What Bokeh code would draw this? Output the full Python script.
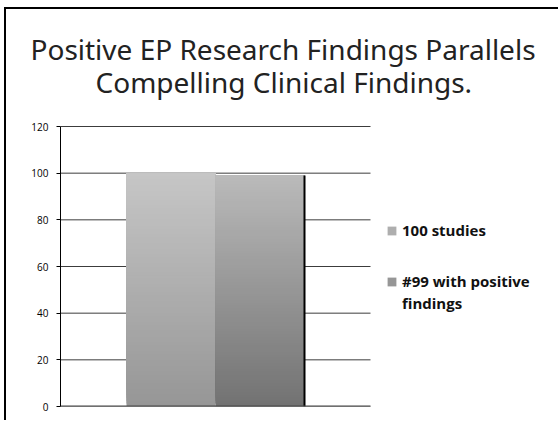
import numpy as np
from bokeh.plotting import figure
from bokeh.models import Range1d, FixedTicker, Legend, LegendItem, Title
from bokeh.embed import file_html
from bokeh.resources import INLINE

# ---- data ----
title_lines = ["Positive EP Research Findings Parallels", "Compelling Clinical Findings."]
categories = ["100 studies", "#99 with positive findings"]
values = [100, 99]
y_ticks = [0, 20, 40, 60, 80, 100, 120]

# gradient styles (top colour, bottom colour) per bar
grad_top = [(198, 198, 198), (186, 186, 186)]
grad_bot = [(150, 150, 150), (114, 114, 114)]

CW, CH = 554, 413
X0, X1 = -1.2416, 4.3764   # x extent of frame
GRID_END = 2.2416          # right end of value grid area

p = figure(width=CW, height=CH, output_backend="svg", toolbar_location=None,
           x_range=Range1d(X0, X1), y_range=Range1d(0, 123.0),
           min_border_left=54, min_border_right=0, min_border_top=110,
           min_border_bottom=16, x_axis_location=None, margin=(7, 0, 0, 4))
p.outline_line_color = None
p.background_fill_color = "white"
p.border_fill_color = "white"
p.xgrid.grid_line_color = None
p.ygrid.grid_line_color = None
p.styles = {"border-left": "2px solid black", "border-top": "2px solid black"}

# title (two centred lines; offsets place them centred on the slide)
title_offsets = [-30, 35]
title_standoffs = [-53, 38]
for k in reversed(range(len(title_lines))):
    p.add_layout(Title(text=title_lines[k], align="left", offset=title_offsets[k],
                       standoff=title_standoffs[k], text_font="Noto Sans",
                       text_font_size="28px", text_font_style="normal",
                       text_color="#222222"), "above")

ax = p.yaxis[0]
ax.ticker = FixedTicker(ticks=y_ticks)
ax.bounds = (min(y_ticks), max(y_ticks))
ax.axis_line_color = "black"
ax.major_tick_line_color = "black"
ax.major_tick_out = 4
ax.major_tick_in = 0
ax.minor_tick_line_color = None
ax.major_label_text_font = "Open Sans"
ax.major_label_text_font_size = "10px"
ax.major_label_text_color = "black"
ax.major_label_standoff = 8

# horizontal value gridlines over the plot area
p.segment(x0=[X0] * len(y_ticks), x1=[GRID_END] * len(y_ticks), y0=y_ticks, y1=y_ticks,
          line_color="#3c3c3c", line_width=1)

# bars with vertical gradient made of overlapping slices
N = 80
bars = []
for i, v in enumerate(values):
    tt = np.arange(N) / N
    bottoms = v * tt
    top = np.array(grad_top[i], dtype=float)
    bot = np.array(grad_bot[i], dtype=float)
    fr = (bot[None, :] + (top - bot)[None, :] * (tt + 0.5 / N)[:, None]).round().astype(int)
    cols = ["#%02x%02x%02x" % tuple(c) for c in fr]
    bars.append(p.quad(left=i - 0.5, right=i + 0.5, bottom=bottoms, top=v,
                       fill_color=cols, line_color=None))

# dark shadow on right edge of last bar
p.segment(x0=len(values) - 0.5, x1=len(values) - 0.5, y0=0, y1=values[-1],
          line_color="black", line_width=2)
# baseline
p.segment(x0=X0, x1=GRID_END, y0=0, y1=0, line_color="#444444", line_width=2)

# legend (second label wrapped onto two lines)
blank = p.quad(left=[], right=[], bottom=[], top=[], fill_alpha=0, line_alpha=0)
words = categories[1].split(" ")
wrap1, wrap2 = " ".join(words[:3]), " ".join(words[3:])
common = dict(padding=0, margin=0, spacing=2, glyph_width=11, glyph_height=11, label_standoff=5,
              label_text_font="Open Sans", label_text_font_style="bold",
              label_text_font_size="15px", label_text_color="#111111",
              border_line_color=None, background_fill_alpha=0)
legA = Legend(items=[LegendItem(label=categories[0], renderers=[bars[0]], index=N // 2)],
              location=(326, 166), **common)
legB = Legend(items=[LegendItem(label=wrap1, renderers=[bars[1]], index=N // 2),
                     LegendItem(label=wrap2, renderers=[blank])],
              location=(326, 93), **common)
p.add_layout(legA, "center")
p.add_layout(legB, "center")

open("out.html", "w").write(file_html(p, INLINE))
